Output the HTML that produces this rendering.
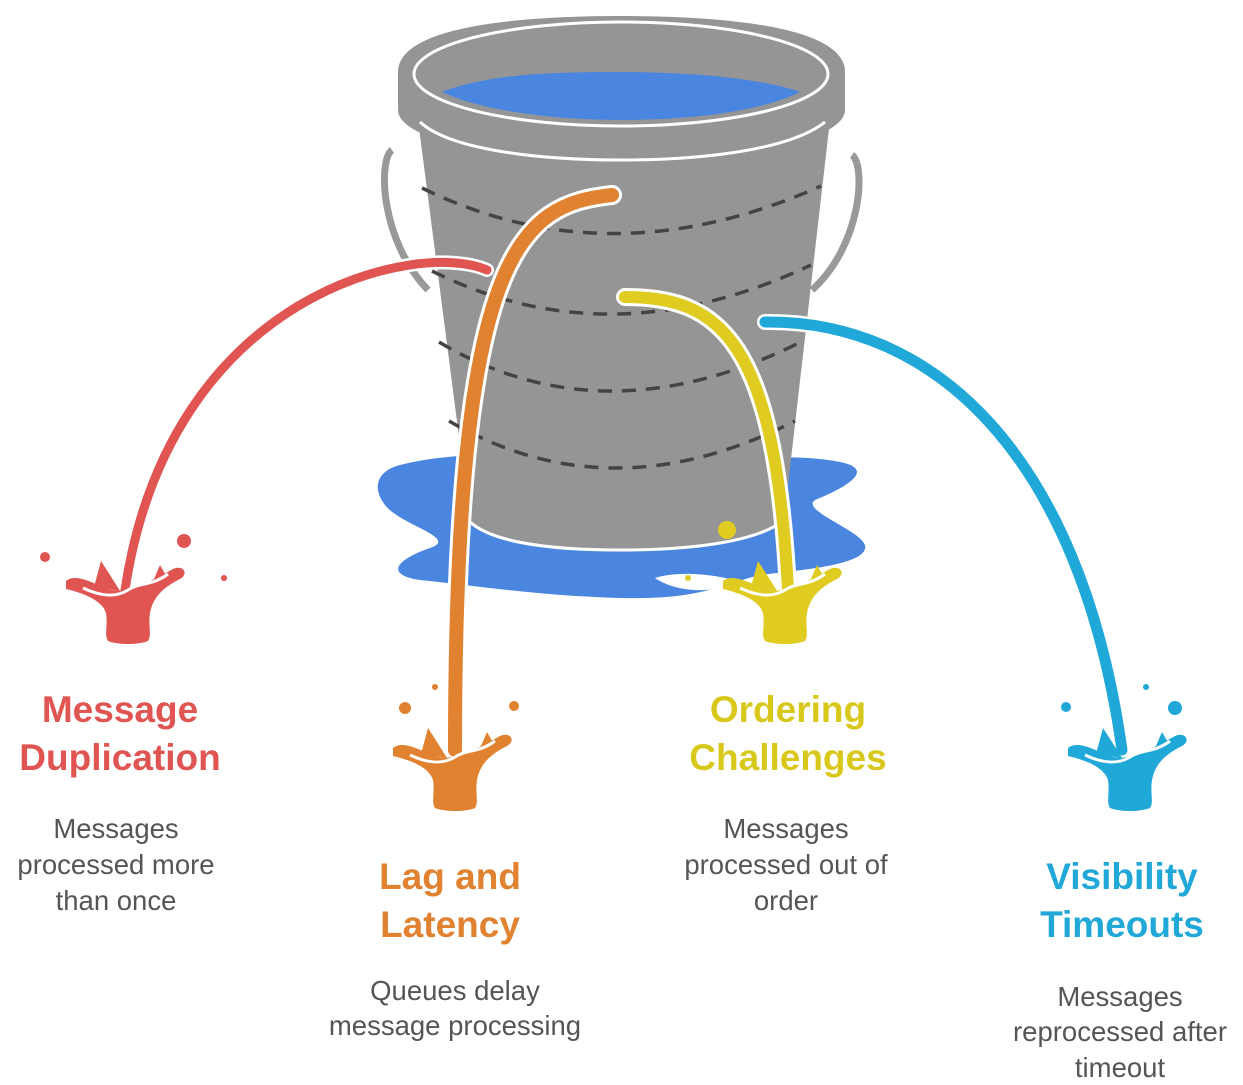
<!DOCTYPE html>
<html><head><meta charset="utf-8"><style>
html,body{margin:0;padding:0;background:#fff;}
svg{display:block;}
.t{font-family:"Liberation Sans",sans-serif;font-weight:bold;font-size:37px;text-anchor:middle;}
.d{font-family:"Liberation Sans",sans-serif;font-size:27.5px;fill:#555;text-anchor:middle;}
</style></head><body>
<svg width="1243" height="1085" viewBox="0 0 1243 1085" xmlns="http://www.w3.org/2000/svg">
<defs>
<g id="sp">
<path d="M-62,-4 C-52,-12 -36,-2 -20,4 C0,10 20,-2 45,-16 C56,-21 62,-10 50,-5 C35,3 25,12 22,28 C20,42 24,50 20,56 C10,60 -10,60 -20,56 C-24,50 -20,42 -22,28 C-26,15 -45,8 -62,4 Z"/>
<path d="M-34,2 L-27,-24 L-18,-10 L-8,6 Z"/>
<path d="M12,2 L26,-6 L32,-20 L40,-6 Z"/>
</g>
</defs>
<!-- puddle -->
<path d="M400,465 C460,450 520,455 600,460 C700,465 780,450 840,462 C880,470 840,490 815,500 C800,510 860,530 865,545 C870,565 800,570 760,575 C720,585 700,600 620,598 C540,596 470,585 420,580 C385,575 395,560 430,548 C460,538 400,525 385,505 C370,485 380,470 400,465 Z" fill="#4a86e0"/>
<path d="M655,578 C680,570 720,575 740,582 C720,592 680,595 655,578 Z" fill="#fff"/>
<!-- handles -->
<path d="M392,150 C378,160 380,240 428,290" fill="none" stroke="#999" stroke-width="7"/>
<path d="M852,155 C866,165 862,245 812,290" fill="none" stroke="#999" stroke-width="7"/>
<!-- body -->
<path d="M418,120 L830,120 L784,520 C760,540 700,550 620,550 C540,550 490,540 470,522 Z" fill="#959595"/>
<path d="M470,522 C490,540 540,550 620,550 C700,550 760,540 784,520" fill="none" stroke="#fff" stroke-width="3"/>
<!-- dashed -->
<g fill="none" stroke="#444" stroke-width="3.5" stroke-dasharray="14 10">
<path d="M422,188 Q610,280 821,186"/>
<path d="M432,271 Q610,360 811,265"/>
<path d="M439,342 Q603,440 801,342"/>
<path d="M449,421 Q610,515 795,421"/>
</g>
<!-- rim -->
<path d="M398,72 C398,30 500,16 621,16 C742,16 845,30 845,72 L845,110 C845,140 740,162 621,162 C502,162 398,140 398,110 Z" fill="#959595"/>
<path d="M420,122 C450,150 540,160 621,160 C702,160 790,150 825,122" fill="none" stroke="#fff" stroke-width="3"/>
<ellipse cx="621" cy="74" rx="207" ry="52" fill="none" stroke="#fff" stroke-width="3"/>
<path d="M442,92 C490,73 560,72 621,72 C690,72 760,78 800,92 C760,112 690,120 621,120 C550,120 480,110 442,92 Z" fill="#4a86e0"/>
<!-- streams -->
<g fill="none" stroke-linecap="round">
<path d="M487,270 C420,240 170,290 125,590" stroke="#fff" stroke-width="14"/>
<path d="M487,270 C420,240 170,290 125,590" stroke="#e05552" stroke-width="9"/>
<path d="M612,195 C520,205 455,250 455,750" stroke="#fff" stroke-width="20"/>
<path d="M612,195 C520,205 455,250 455,750" stroke="#e08230" stroke-width="14"/>
<path d="M625,297 C720,297 775,340 788,590" stroke="#fff" stroke-width="18"/>
<path d="M625,297 C720,297 775,340 788,590" stroke="#e0cc20" stroke-width="12"/>
<path d="M765,322 C930,320 1080,450 1122,750" stroke="#fff" stroke-width="16"/>
<path d="M765,322 C930,320 1080,450 1122,750" stroke="#20a8d8" stroke-width="11"/>
</g>
<!-- splashes -->
<g fill="#e05552"><use href="#sp" transform="translate(128,585)"/><circle cx="45" cy="557" r="5"/><circle cx="184" cy="541" r="7"/><circle cx="224" cy="578" r="3"/></g>
<g fill="#e08230"><use href="#sp" transform="translate(455,752)"/><circle cx="405" cy="708" r="6"/><circle cx="435" cy="687" r="3"/><circle cx="514" cy="706" r="5"/></g>
<g fill="#e0cc20"><use href="#sp" transform="translate(785,585)"/><circle cx="727" cy="530" r="9"/><circle cx="688" cy="578" r="3"/></g>
<g fill="#20a8d8"><use href="#sp" transform="translate(1130,752)"/><circle cx="1066" cy="707" r="5"/><circle cx="1146" cy="687" r="3"/><circle cx="1175" cy="708" r="7"/></g>
<g fill="none" stroke="#fff" stroke-width="3">
<path d="M83,588 C100,596 115,598 128,590 C140,582 152,586 168,574"/>
<path d="M410,755 C427,763 442,765 455,757 C467,749 479,753 495,741"/>
<path d="M740,588 C757,596 772,598 785,590 C797,582 809,586 825,574"/>
<path d="M1085,755 C1102,763 1117,765 1130,757 C1142,749 1154,753 1170,741"/>
</g>
<!-- text -->
<g class="t" fill="#e05552"><text x="120" y="722">Message</text><text x="120" y="770">Duplication</text></g>
<g class="d"><text x="116" y="838">Messages</text><text x="116" y="874">processed more</text><text x="116" y="910">than once</text></g>
<g class="t" fill="#e08230"><text x="450" y="889">Lag and</text><text x="450" y="937">Latency</text></g>
<g class="d"><text x="455" y="1000">Queues delay</text><text x="455" y="1035">message processing</text></g>
<g class="t" fill="#d9c81c"><text x="788" y="722">Ordering</text><text x="788" y="770">Challenges</text></g>
<g class="d"><text x="786" y="838">Messages</text><text x="786" y="874">processed out of</text><text x="786" y="910">order</text></g>
<g class="t" fill="#20a8d8"><text x="1122" y="889">Visibility</text><text x="1122" y="937">Timeouts</text></g>
<g class="d"><text x="1120" y="1006">Messages</text><text x="1120" y="1041">reprocessed after</text><text x="1120" y="1077">timeout</text></g>
</svg>
</body></html>
